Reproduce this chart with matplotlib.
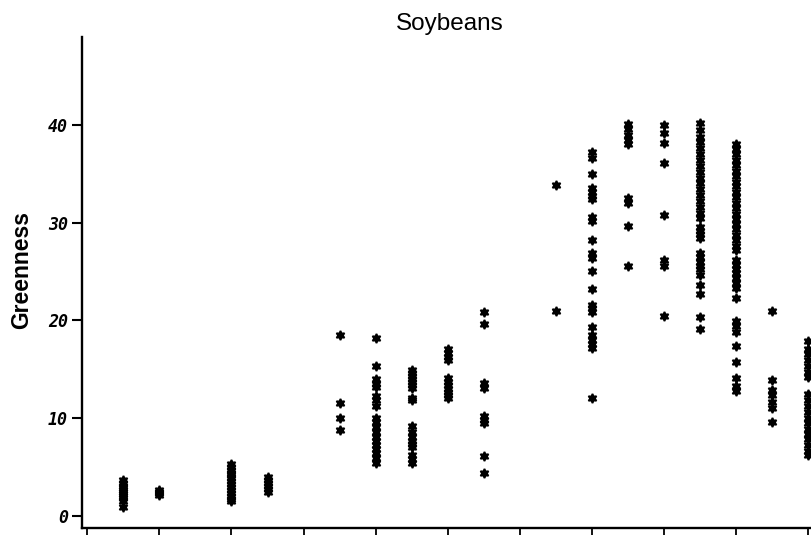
import matplotlib
matplotlib.use("Agg")
import matplotlib.pyplot as plt
import numpy as np

# x positions of the sampling groups (tick units)
group_x = [0.5, 1, 2, 2.5, 3.5, 4, 4.5, 5, 5.5, 6.5, 7, 7.5, 8, 8.5, 9, 9.5, 10]

# Greenness values read per group
g01 = [3.6, 3.3, 3.0, 2.8, 2.6, 2.4, 2.2, 2.0, 1.8, 1.5, 0.9]
g02 = [2.6, 2.4, 2.3, 2.1]
g03 = [5.3, 5.0, 4.7, 4.4, 4.1, 3.8, 3.5, 3.2, 2.9, 2.6, 2.3, 2.0, 1.7, 1.5]
g04 = [3.9, 3.6, 3.3, 3.0, 2.7, 2.4]
g05 = [18.5, 11.5, 10.0, 8.8]
g06 = [18.2, 15.3, 14.0, 13.5, 13.2, 12.2, 11.8, 11.2, 10.0, 9.6, 9.1, 8.6,
       8.0, 7.6, 7.2, 6.8, 6.4, 5.9, 5.4]
g07 = [14.9, 14.6, 14.3, 14.0, 13.7, 13.4, 13.1, 12.0, 11.8, 9.2, 8.6, 8.0,
       7.6, 7.3, 7.0, 6.2, 5.8, 5.4]
g08 = [17.0, 16.6, 16.2, 15.9, 14.1, 13.7, 13.4, 13.0, 12.6, 12.3, 12.0]
g09 = [20.8, 19.6, 13.6, 13.1, 10.2, 9.8, 9.5, 6.1, 4.4]
g10 = [33.8, 20.9]
g11 = [37.2, 36.6, 35.0, 33.5, 33.1, 32.7, 32.4, 30.6, 30.2, 28.2, 26.9, 26.4,
       25.0, 23.2, 21.6, 21.2, 20.8, 19.3, 18.5, 18.0, 17.6, 17.2, 12.0]
g12 = [40.1, 39.6, 39.0, 38.5, 38.0, 32.5, 32.0, 29.6, 25.5]
g13 = [40.0, 39.2, 38.1, 36.1, 30.8, 26.2, 25.5, 20.4]
g14 = [40.2, 39.5, 38.8, 38.2, 37.6, 37.0, 36.4, 35.8, 35.2, 34.6, 34.0, 33.4,
       32.8, 32.2, 31.6, 31.0, 30.5, 29.5, 29.1, 28.8, 28.4, 26.9, 26.5, 26.0,
       25.6, 25.2, 24.6, 23.6, 22.7, 20.3, 19.1]
g15 = [38.0, 37.5, 37.0, 36.4, 35.9, 35.3, 34.8, 34.2, 33.7, 33.1, 32.6, 32.0,
       31.5, 30.9, 30.4, 29.8, 29.3, 28.7, 28.2, 27.6, 27.2, 26.2, 25.7, 25.2,
       24.8, 24.3, 23.8, 23.3, 22.3, 19.9, 19.4, 18.8, 17.4, 15.7, 14.1, 13.3,
       12.8]
g16 = [20.9, 13.9, 12.9, 12.3, 11.6, 11.0, 9.6]
g17 = [17.9, 17.1, 16.5, 15.9, 15.3, 14.7, 14.2, 12.4, 11.8, 11.2, 10.6, 10.0,
       9.5, 8.9, 8.3, 7.8, 7.2, 6.6, 6.2]

groups = [g01, g02, g03, g04, g05, g06, g07, g08, g09, g10, g11, g12, g13,
          g14, g15, g16, g17]

y_ticks = [0, 10, 20, 30, 40]
y_tick_labels = ["0", "10", "20", "30", "40"]
x_ticks = list(range(0, 11))

xs = np.concatenate([[gx] * len(g) for gx, g in zip(group_x, groups)])
ys = np.concatenate(groups)

fig = plt.figure(figsize=(8.11, 5.44), dpi=100)
ax = fig.add_axes([82 / 811, 1 - 528 / 544, 1 - 82 / 811, (528 - 37) / 544])

ax.plot(xs, ys, linestyle="none", marker=(6, 1, 0), markersize=6.6,
        markeredgewidth=1.3, color="black", clip_on=False)

ax.set_xlim(-0.074, 10.04)
ax.set_ylim(-1.28, 49.0)

for s in ["top", "right"]:
    ax.spines[s].set_visible(False)
for s in ["left", "bottom"]:
    ax.spines[s].set_linewidth(1.7)
    ax.spines[s].set_color("black")

ax.set_xticks(x_ticks)
ax.set_xticklabels([])
ax.tick_params(axis="x", direction="out", length=5, width=1.3, color="black")

ax.set_yticks(y_ticks)
ax.set_yticklabels(y_tick_labels)
ax.tick_params(axis="y", direction="out", length=7, width=1.5, color="black", pad=3)
for lab in ax.get_yticklabels():
    lab.set_fontfamily("DejaVu Sans Mono")
    lab.set_fontweight("bold")
    lab.set_fontstyle("oblique")
    lab.set_fontsize(12)

fig.text(450 / 811, 1 - 30 / 544, "Soybeans", ha="center", va="baseline",
         fontsize=17.5, family="Liberation Sans")
fig.text(21.5 / 811, 1 - 270 / 544, "Greenness", ha="center", va="center",
         rotation=90, fontsize=16.5, family="Liberation Sans", fontweight="bold")

fig.savefig("out.png", dpi=100)
